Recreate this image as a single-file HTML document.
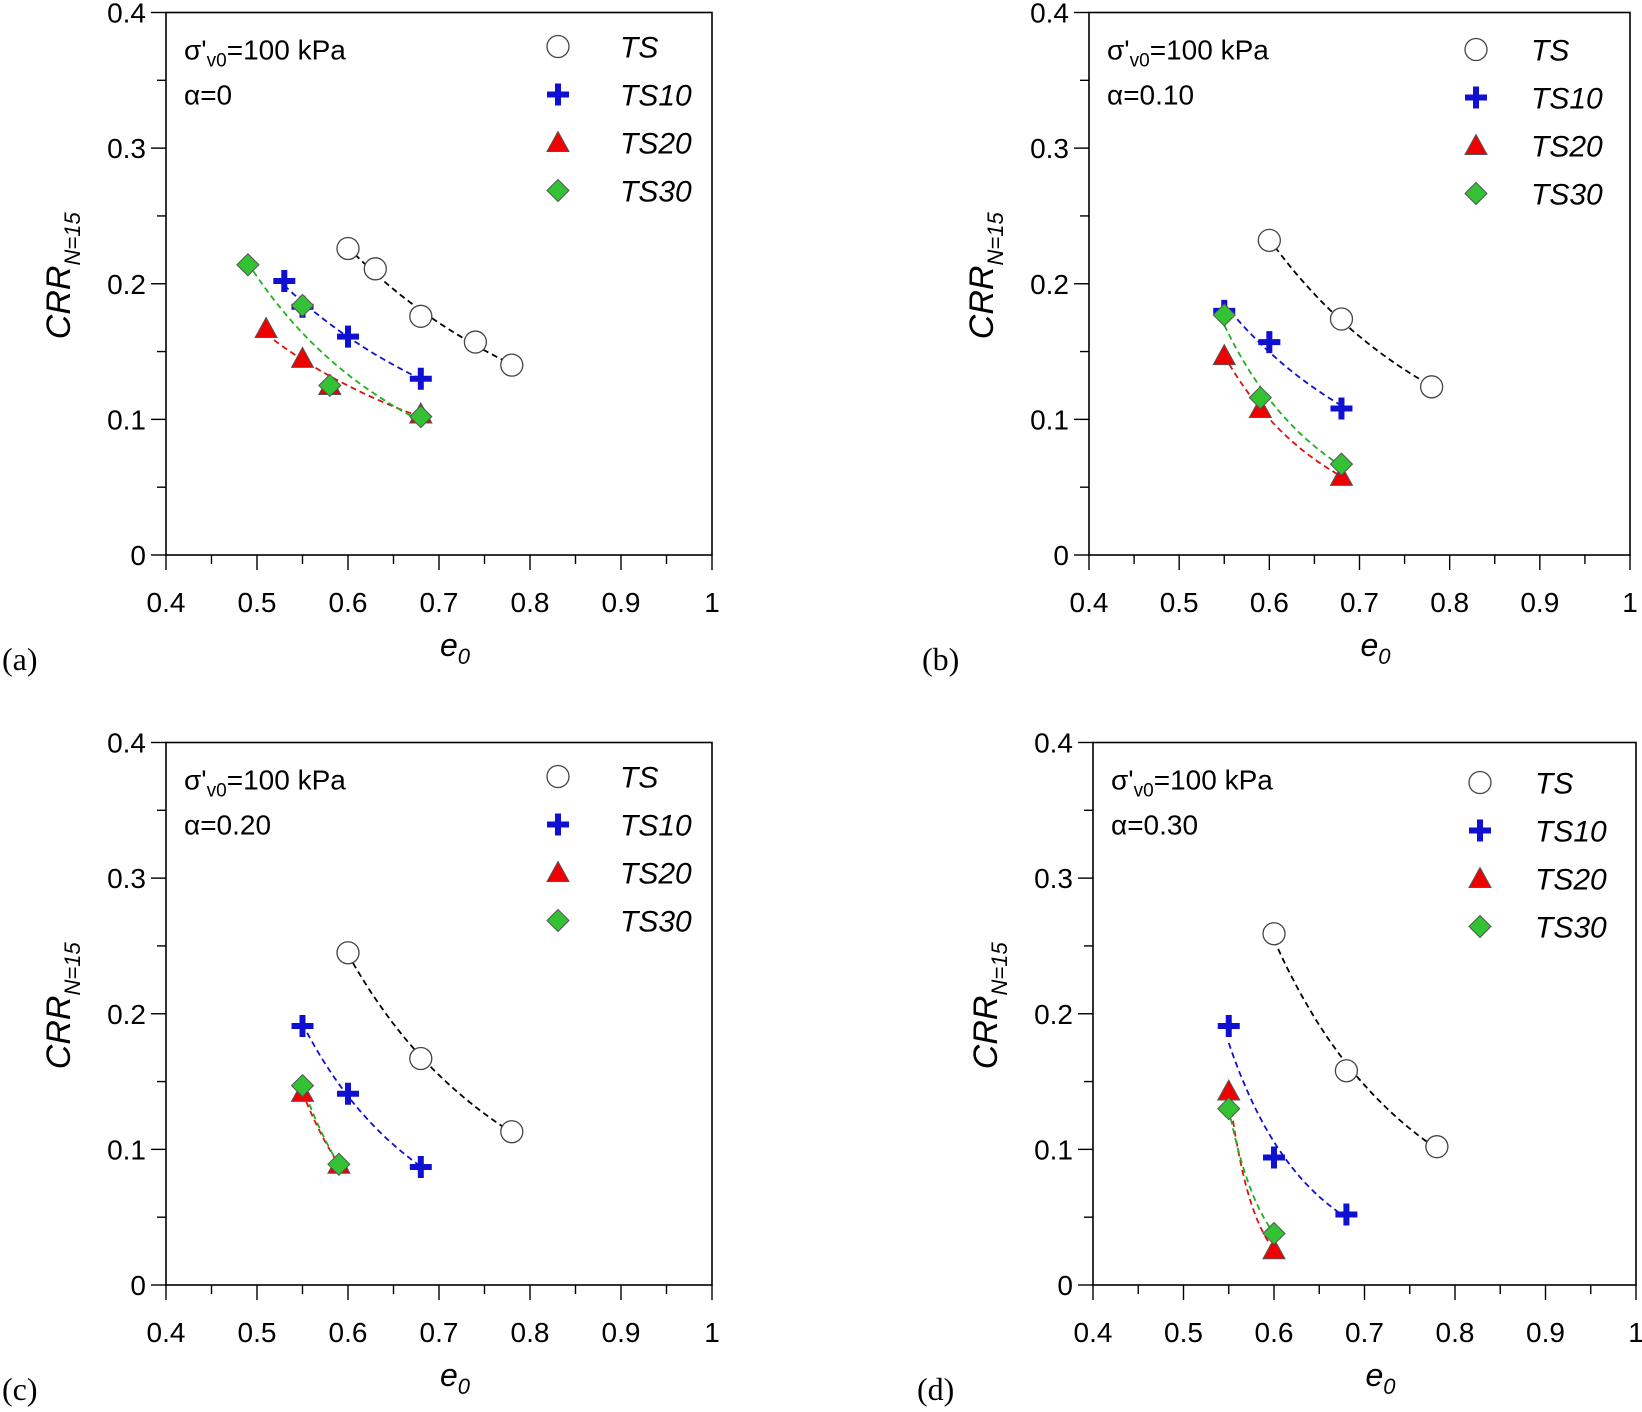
<!DOCTYPE html>
<html><head><meta charset="utf-8">
<style>
html,body{margin:0;padding:0;background:#fff}
svg{display:block}
text{font-family:"Liberation Sans",sans-serif}
</style></head>
<body>
<svg id="fig" width="1642" height="1412" viewBox="0 0 1642 1412" xmlns="http://www.w3.org/2000/svg"></svg>
<script>
const xTicks = [0.4,0.5,0.6,0.7,0.8,0.9,1];
const xTickLabels = ["0.4","0.5","0.6","0.7","0.8","0.9","1"];
const yTicks = [0,0.1,0.2,0.3,0.4];
const yTickLabels = ["0","0.1","0.2","0.3","0.4"];
const seriesNames = ["TS","TS10","TS20","TS30"];
const alphaLabels = ["α=0","α=0.10","α=0.20","α=0.30"];
const panelLetters = ["(a)","(b)","(c)","(d)"];

const a_TS_x=[0.60,0.63,0.68,0.74,0.78], a_TS_y=[0.226,0.211,0.176,0.157,0.140];
const a_TS10_x=[0.53,0.55,0.60,0.68], a_TS10_y=[0.202,0.183,0.161,0.130];
const a_TS20_x=[0.51,0.55,0.58,0.68], a_TS20_y=[0.167,0.145,0.125,0.104];
const a_TS30_x=[0.49,0.55,0.58,0.68], a_TS30_y=[0.214,0.184,0.125,0.102];

const b_TS_x=[0.60,0.68,0.78], b_TS_y=[0.232,0.174,0.124];
const b_TS10_x=[0.55,0.60,0.68], b_TS10_y=[0.180,0.157,0.108];
const b_TS20_x=[0.55,0.59,0.68], b_TS20_y=[0.147,0.108,0.058];
const b_TS30_x=[0.55,0.59,0.68], b_TS30_y=[0.177,0.116,0.067];

const c_TS_x=[0.60,0.68,0.78], c_TS_y=[0.245,0.167,0.113];
const c_TS10_x=[0.55,0.60,0.68], c_TS10_y=[0.191,0.141,0.087];
const c_TS20_x=[0.55,0.59], c_TS20_y=[0.142,0.089];
const c_TS30_x=[0.55,0.59], c_TS30_y=[0.147,0.089];

const d_TS_x=[0.60,0.68,0.78], d_TS_y=[0.259,0.158,0.102];
const d_TS10_x=[0.55,0.60,0.68], d_TS10_y=[0.191,0.094,0.052];
const d_TS20_x=[0.55,0.60], d_TS20_y=[0.143,0.026];
const d_TS30_x=[0.55,0.60], d_TS30_y=[0.130,0.038];

const panelData = [
 [[a_TS_x,a_TS_y],[a_TS10_x,a_TS10_y],[a_TS20_x,a_TS20_y],[a_TS30_x,a_TS30_y]],
 [[b_TS_x,b_TS_y],[b_TS10_x,b_TS10_y],[b_TS20_x,b_TS20_y],[b_TS30_x,b_TS30_y]],
 [[c_TS_x,c_TS_y],[c_TS10_x,c_TS10_y],[c_TS20_x,c_TS20_y],[c_TS30_x,c_TS30_y]],
 [[d_TS_x,d_TS_y],[d_TS10_x,d_TS10_y],[d_TS20_x,d_TS20_y],[d_TS30_x,d_TS30_y]]
];
const panelBoxes = [
 {l:166,r:712,t:12.5,b:555,leg:0},
 {l:1089,r:1630,t:12.5,b:555,leg:3},
 {l:166,r:712,t:742.5,b:1285,leg:0},
 {l:1093,r:1636,t:742.5,b:1285,leg:6}
];
const lineColors=["#000","#1010d0","#e01010","#20b020"];

const NS="http://www.w3.org/2000/svg";
const svg=document.getElementById('fig');
function mk(tag,attrs,parent){const e=document.createElementNS(NS,tag);for(const k in attrs)e.setAttribute(k,attrs[k]);(parent||svg).appendChild(e);return e;}

function powerFit(xs,ys){
  const lx=xs.map(Math.log), ly=ys.map(Math.log), n=xs.length;
  const mx=lx.reduce((a,b)=>a+b)/n, my=ly.reduce((a,b)=>a+b)/n;
  let sxy=0,sxx=0;for(let i=0;i<n;i++){sxy+=(lx[i]-mx)*(ly[i]-my);sxx+=(lx[i]-mx)**2;}
  const b=sxx?sxy/sxx:0; const a=Math.exp(my-b*mx);
  return x=>a*Math.pow(x,b);
}

function marker(g,k,cx,cy){
  let m;
  if(k===0){m=mk('circle',{cx:cx,cy:cy,r:11,fill:'#fff',stroke:'#444','stroke-width':1.3},g);}
  else if(k===1){m=mk('path',{d:`M${cx-11} ${cy}H${cx+11}M${cx} ${cy-11}V${cy+11}`,stroke:'#1010d0','stroke-width':6,fill:'none'},g);}
  else if(k===2){m=mk('path',{d:`M${cx} ${cy-11}L${cx+11} ${cy+9}L${cx-11} ${cy+9}Z`,fill:'#f00000',stroke:'#555','stroke-width':1},g);}
  else {m=mk('path',{d:`M${cx} ${cy-11}L${cx+11} ${cy}L${cx} ${cy+11}L${cx-11} ${cy}Z`,fill:'#33c233',stroke:'#555','stroke-width':1},g);}
  return m;
}

panelBoxes.forEach((P,pi)=>{
  const g=mk('g',{});
  
  
  const X=v=>P.l+(v-0.4)/0.6*(P.r-P.l);
  const Y=v=>P.b-(v/0.4)*(P.b-P.t);
  const frame=mk('rect',{x:P.l,y:P.t,width:P.r-P.l,height:P.b-P.t,fill:'none',stroke:'#000','stroke-width':1.6},g);
  
  
  for(let i=0;i<=8;i++){const v=i*0.05;const y=Y(v);mk('line',{x1:P.l-(i%2?9:15),x2:P.l,y1:y,y2:y,stroke:'#000','stroke-width':1.4},g);}
  yTicks.forEach((v,i)=>{const t=mk('text',{x:P.l-20,y:Y(v)+10,'text-anchor':'end','font-size':28},g);t.textContent=yTickLabels[i];
    });
  for(let i=0;i<=12;i++){const v=0.4+i*0.05;const x=X(v);mk('line',{x1:x,x2:x,y1:P.b,y2:P.b+(i%2?9:15),stroke:'#000','stroke-width':1.4},g);}
  xTicks.forEach((v,i)=>{const t=mk('text',{x:X(v),y:P.b+57,'text-anchor':'middle','font-size':28},g);t.textContent=xTickLabels[i];
    });
  const xt=mk('text',{x:(P.l+P.r)/2+16,y:P.b+101,'text-anchor':'middle','font-size':32,'font-style':'italic'},g);
  xt.innerHTML=`e<tspan font-size="22" dy="8">0</tspan>`;
  
  const yt=mk('text',{transform:`translate(${P.l-96},${(P.t+P.b)/2-8}) rotate(-90)`,'text-anchor':'middle','font-size':34,'font-style':'italic'},g);
  yt.innerHTML=`CRR<tspan font-size="22" dy="10">N=15</tspan>`;
  
  const pl=mk('text',{x:P.l-164,y:P.b+115,'font-size':32,style:'font-family:"Liberation Serif",serif'},g);
  pl.textContent=panelLetters[pi];
  
  if(pi===1){pl.setAttribute('x',922);} if(pi===3){pl.setAttribute('x',917);}
  const an=mk('text',{x:P.l+18,y:P.t+47,'font-size':28},g);
  an.innerHTML=`σ'<tspan font-size="19" dy="7">v0</tspan><tspan dy="-7">=100 kPa</tspan>`;
  
  const al=mk('text',{x:P.l+18,y:P.t+92,'font-size':28},g);
  al.textContent=alphaLabels[pi];
  
  panelData[pi].forEach((s,k)=>{
    const xs=s[0],ys=s[1];const f=powerFit(xs,ys);
    const x0=Math.min(...xs),x1=Math.max(...xs);let d='';
    for(let i=0;i<=40;i++){const x=x0+(x1-x0)*i/40;d+=(i?'L':'M')+X(x).toFixed(1)+' '+Y(f(x)).toFixed(1);}
    const ln=mk('path',{d:d,fill:'none',stroke:lineColors[k],'stroke-width':1.8,'stroke-dasharray':'6 4'},g);
    
    
  });
  panelData[pi].forEach((s,k)=>{
    s[0].forEach((v,i)=>{const m=marker(g,k,X(v),Y(s[1][i]));
      
      });
  });
  seriesNames.forEach((n,k)=>{
    const yy=P.t+34+k*48+P.leg;
    const lm=marker(g,k,P.l+392+(pi%2?-5:0),yy);
    
    
    const lt=mk('text',{x:P.l+454+(pi%2?-12:0),y:yy+11,'font-size':30,'font-style':'italic'},g);
    lt.textContent=n;
    
    
  });
});
</script>
</body></html>
